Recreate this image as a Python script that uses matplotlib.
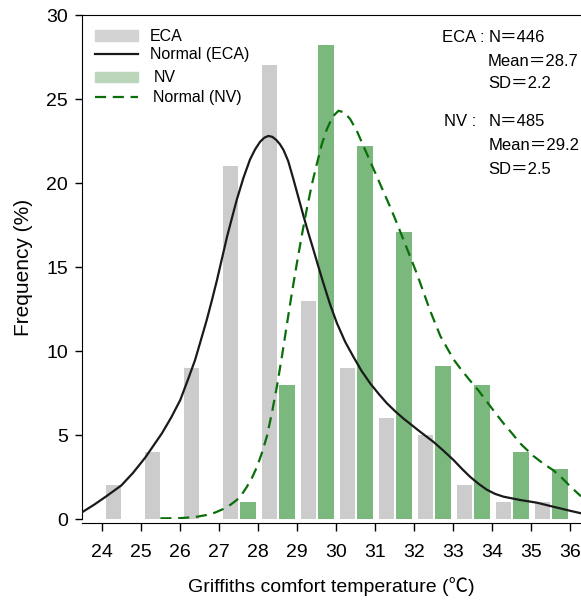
import numpy as np
import matplotlib
matplotlib.use("Agg")
import matplotlib.pyplot as plt
from matplotlib.patches import Patch
from matplotlib.lines import Line2D

plt.rcParams['font.family'] = ['Liberation Sans', 'Noto Sans CJK JP', 'DejaVu Sans']

# histogram bins (comfort temperature, deg C) and frequencies (%)
eca_bins = [24, 25, 26, 27, 28, 29, 30, 31, 32, 33, 34, 35]
eca_freq = [2, 4, 9, 21, 27, 13, 9, 6, 5, 2, 1, 1]
nv_bins = [28, 29, 30, 31, 32, 33, 34, 35, 36]
nv_freq = [1, 8, 28.2, 22.2, 17.1, 9.1, 8, 4, 3]

# fitted curves
eca_fit_x = [23.49, 23.8, 24.1, 24.5, 24.8, 25.11, 25.54, 25.78, 26.01, 26.2,
             26.39, 26.54, 26.69, 26.82, 26.95, 27.08, 27.21, 27.34, 27.46,
             27.63, 27.8, 27.93, 28.06, 28.17, 28.27, 28.37, 28.47, 28.57,
             28.66, 28.78, 28.91, 29.04, 29.17, 29.3, 29.43, 29.55, 29.68,
             29.85, 30.03, 30.24, 30.45, 30.66, 30.88, 31.1, 31.31, 31.52,
             31.73, 32.16, 32.5, 32.76, 33.02, 33.23, 33.44, 33.66, 33.87,
             34.08, 34.3, 34.73, 35.16, 35.58, 36.01, 36.29]
eca_fit_y = [0.4, 0.85, 1.33, 2.0, 2.75, 3.65, 5.1, 6.05, 7.08, 8.25,
             9.46, 10.65, 11.85, 13.0, 14.2, 15.5, 16.8, 17.95, 19.0,
             20.3, 21.4, 22.0, 22.46, 22.7, 22.8, 22.75, 22.57, 22.3,
             21.96, 21.3, 20.25, 19.15, 18.05, 17.0, 16.0, 15.05, 14.05,
             12.8, 11.65, 10.55, 9.66, 8.82, 8.08, 7.45, 6.89, 6.42,
             5.99, 5.2, 4.6, 4.07, 3.51, 3.0, 2.52, 2.1, 1.75,
             1.5, 1.33, 1.13, 0.97, 0.73, 0.49, 0.34]
nv_fit_x = [25.5, 26.0, 26.4, 26.69, 26.9, 27.12, 27.3, 27.46, 27.6, 27.72,
            27.85, 27.98, 28.1, 28.23, 28.36, 28.49, 28.62, 28.74, 28.87,
            29.0, 29.13, 29.26, 29.39, 29.51, 29.64, 29.77, 29.92, 30.07,
            30.22, 30.37, 30.54, 30.71, 30.88, 31.05, 31.22, 31.39, 31.56,
            31.74, 31.91, 32.08, 32.25, 32.42, 32.68, 33.02, 33.23, 33.44,
            33.66, 33.87, 34.08, 34.3, 34.52, 34.73, 35.07, 35.32, 35.58,
            35.8, 36.01, 36.29]
nv_fit_y = [0.04, 0.05, 0.12, 0.24, 0.38, 0.6, 0.85, 1.13, 1.5, 1.92,
            2.45, 3.11, 3.9, 4.9, 6.3, 7.9, 9.7, 11.5, 13.4,
            15.2, 16.9, 18.5, 19.95, 21.1, 22.3, 23.2, 23.95, 24.3,
            24.2, 23.8, 23.1, 22.2, 21.3, 20.4, 19.5, 18.6, 17.65,
            16.6, 15.6, 14.6, 13.5, 12.4, 10.9, 9.5, 8.85, 8.25,
            7.65, 7.0, 6.35, 5.7, 5.1, 4.5, 3.75, 3.3, 2.9,
            2.45, 1.95, 1.35]

gray = "#cccccc"
green = "#7ab87e"
dark_green = "#0a6e0a"
dash = (0, (5, 3))

fig = plt.figure(figsize=(5.81, 6.01), dpi=100)
ax = fig.add_axes([82 / 581, 82 / 601, 499 / 581, 504 / 601])

ax.bar(np.array(eca_bins) + 0.3, eca_freq, width=0.4, color=gray, zorder=1)
ax.bar(np.array(nv_bins) - 0.25, nv_freq, width=0.4, color=green, zorder=1)
ax.plot(eca_fit_x, eca_fit_y, color="#1a1a1a", lw=1.6, zorder=3)
ax.plot(nv_fit_x, nv_fit_y, color=dark_green, lw=1.6, ls=dash, zorder=3)

ax.set_xlim(23.49, 36.29)
ax.set_ylim(0, 30)
ax.set_xticks(range(24, 37))
ax.set_yticks(range(0, 31, 5))
ax.spines['right'].set_visible(False)
ax.spines['bottom'].set_position(('outward', 3))
ax.tick_params(axis='x', direction='out', length=6, width=1, pad=9, labelsize=14)
ax.tick_params(axis='y', direction='out', length=5, width=1, pad=5, labelsize=14)

ax.set_xlabel("Griffiths comfort temperature (℃)", fontsize=14)
ax.xaxis.set_label_coords(0.5, -0.116)
ax.set_ylabel("Frequency (%)", fontsize=15)
ax.yaxis.set_label_coords(-0.098, 0.5)

# legends: ECA pair, then NV pair
leg1 = ax.legend(handles=[Patch(color="#d3d3d3"),
                          Line2D([], [], color="#1a1a1a", lw=1.6)],
                 labels=["ECA", "Normal (ECA)"],
                 loc="upper left", bbox_to_anchor=(0.026, 0.972),
                 frameon=False, fontsize=11.5, borderpad=0, borderaxespad=0,
                 handlelength=2.7, handletextpad=0.75, labelspacing=0.2,
                 handleheight=0.6)
ax.add_artist(leg1)
ax.legend(handles=[Patch(color="#bcd6bc"),
                   Line2D([], [], color=dark_green, lw=1.6, ls=dash)],
          labels=["NV", "Normal (NV)"],
          loc="upper left", bbox_to_anchor=(0.026, 0.89),
          frameon=False, fontsize=11.5, borderpad=0, borderaxespad=0,
          handlelength=2.7, handletextpad=0.95, labelspacing=0.28,
          handleheight=0.6)

# sample statistics
stats = [(442, 37, "ECA : "), (489, 37, "N＝446"), (488, 61, "Mean＝28.7"),
         (488, 84, "SD＝2.2"), (444, 122, "NV : "), (489, 122, "N＝485"),
         (489, 146, "Mean＝29.2"), (488, 169, "SD＝2.5")]
for px, py, s in stats:
    fig.text(px / 581, 1 - py / 601, s, fontsize=12, ha="left", va="center")

fig.savefig("out.png", dpi=100)
